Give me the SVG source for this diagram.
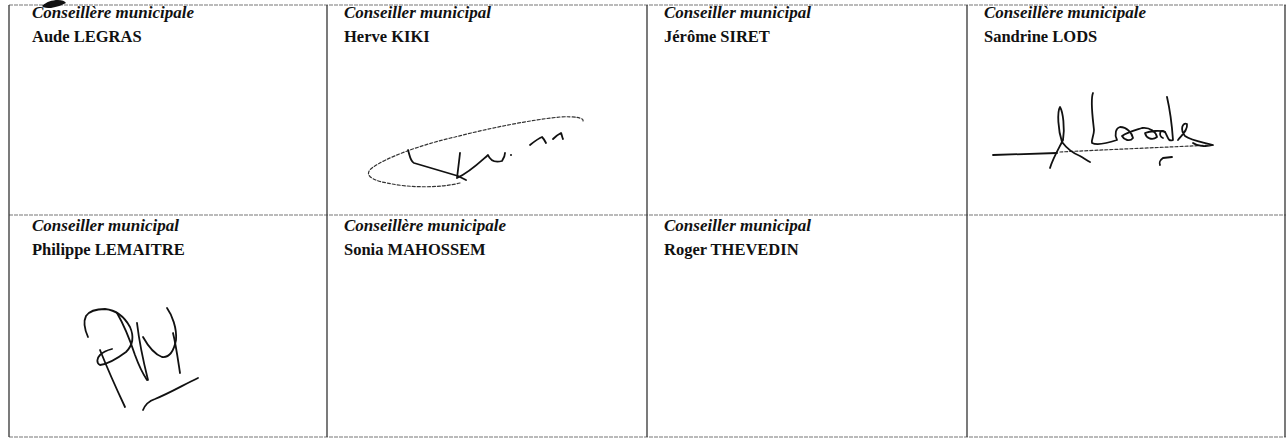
<svg xmlns="http://www.w3.org/2000/svg" width="1287" height="442" viewBox="0 0 1287 442">
<style>
.role{font-family:"Liberation Serif","Times New Roman",serif;font-style:italic;font-weight:bold;font-size:17px;fill:#111}
.name{font-family:"Liberation Serif","Times New Roman",serif;font-weight:bold;font-size:16.5px;fill:#111}
.sig{fill:none;stroke:#111;stroke-width:1.8;stroke-linecap:round;stroke-linejoin:round}
.sigd{fill:none;stroke:#333;stroke-width:1.2;stroke-dasharray:3 2;stroke-linecap:round}
.hl{stroke:#777;stroke-width:1.1;stroke-dasharray:4 1}
.vl{stroke:#333;stroke-width:1.3}
</style>
<rect width="1287" height="442" fill="#fff"/>
<g id="grid">
<line class="hl" x1="9" y1="5" x2="1286" y2="5"/>
<line class="hl" x1="9" y1="215" x2="1286" y2="215"/>
<line class="hl" x1="9" y1="437" x2="1286" y2="437"/>
<line class="vl" x1="9" y1="5" x2="9" y2="437"/>
<line class="vl" x1="327" y1="5" x2="327" y2="437"/>
<line class="vl" x1="647" y1="5" x2="647" y2="437"/>
<line class="vl" x1="967" y1="5" x2="967" y2="437"/>
<line class="vl" x1="1285" y1="5" x2="1285" y2="437" stroke="#999"/>
<path d="M42 6 C46 2 52 0 58 0 C62 0 65 1 66 3 C62 5 57 7 51 8 C47 8 44 8 42 6 Z" fill="#111"/>
</g>
<g id="cell-legras">
<text class="role" x="32" y="18">Conseillère municipale</text>
<text class="name" x="32" y="42">Aude LEGRAS</text>
</g>
<g id="cell-kiki">
<text class="role" x="344" y="18">Conseiller municipal</text>
<text class="name" x="344" y="42">Herve KIKI</text>
<path class="sigd" d="M460 183 C440 188 410 188 387 183 C370 180 364 174 372 168 C385 158 420 145 455 137 C490 128 530 120 560 117 C575 116 584 118 583 121"/>
<path class="sig" d="M408 150 C410 156 410 161 414 163 L458 176 L466 180"/>
<path class="sig" d="M460 153 C459 162 458 170 457 178 C470 172 480 162 488 155 C490 160 494 163 502 161 C504 158 505 155 505 153"/>
<path class="sig" d="M530 145 C535 141 539 138 542 137 C544 139 545 141 546 143"/>
<path class="sig" d="M553 139 C556 136 559 134 561 133 C562 135 562 137 563 139"/>
<circle cx="511" cy="155" r="1" fill="#111"/>
</g>
<g id="cell-siret">
<text class="role" x="664" y="18">Conseiller municipal</text>
<text class="name" x="664" y="42">Jérôme SIRET</text>
</g>
<g id="cell-lods">
<text class="role" x="984" y="18">Conseillère municipale</text>
<text class="name" x="984" y="42">Sandrine LODS</text>
<path class="sig" d="M993 155 L1057 153"/>
<path class="sigd" d="M1060 152 C1100 150 1170 147 1213 145"/>
<path class="sig" d="M1050 168 C1053 158 1058 150 1063 140 C1065 128 1063 112 1060 107 C1057 112 1058 130 1062 142 C1068 150 1075 154 1080 156 C1085 159 1088 161 1090 162"/>
<path class="sig" d="M1093 93 C1090 100 1093 120 1094 130 C1094 136 1091 140 1092 143 C1098 146 1108 143 1117 140 C1114 134 1116 128 1120 127 C1127 127 1132 133 1133 138 C1130 142 1124 140 1122 136 C1128 132 1136 130 1142 128 C1150 127 1156 132 1157 137 C1152 141 1146 138 1145 133 C1150 131 1160 130 1165 132 C1168 137 1168 142 1173 140 C1172 126 1170 110 1167 97"/>
<path class="sig" d="M1165 132 C1160 128 1158 136 1163 138"/>
<path class="sig" d="M1178 140 C1182 135 1188 130 1187 124 C1182 122 1180 130 1185 136 C1192 141 1202 142 1213 145 C1206 147 1197 146 1193 143"/>
<path class="sig" d="M1163 158 C1160 160 1159 163 1160 165 M1163 158 L1172 157" stroke-width="1.2"/>
</g>
<g id="cell-lemaitre">
<text class="role" x="32" y="231">Conseiller municipal</text>
<text class="name" x="32" y="255">Philippe LEMAITRE</text>
<path class="sig" d="M88 337 C84 328 84 320 86 316 C90 310 97 309 105 309 C115 310 124 316 130 327 C134 336 133 345 126 352 C118 358 108 364 100 365 C96 363 97 358 100 355 C104 351 108 350 112 349"/>
<path class="sig" d="M100 350 C108 370 117 390 125 407"/>
<path class="sig" d="M117 313 C124 325 130 340 135 355 C139 366 143 374 147 380"/>
<path class="sig" d="M137 323 C139 340 143 360 148 380 M143 337 C148 346 154 354 162 357 C170 358 174 350 176 340 C177 328 172 315 167 308"/>
<path class="sig" d="M173 333 C176 345 178 360 180 373"/>
<path class="sig" d="M143 410 C145 405 149 401 155 399 C170 393 185 384 198 378"/>
</g>
<g id="cell-mahossem">
<text class="role" x="344" y="231">Conseillère municipale</text>
<text class="name" x="344" y="255">Sonia MAHOSSEM</text>
</g>
<g id="cell-thevedin">
<text class="role" x="664" y="231">Conseiller municipal</text>
<text class="name" x="664" y="255">Roger THEVEDIN</text>
</g>
<g id="cell-empty"></g>
</svg>
